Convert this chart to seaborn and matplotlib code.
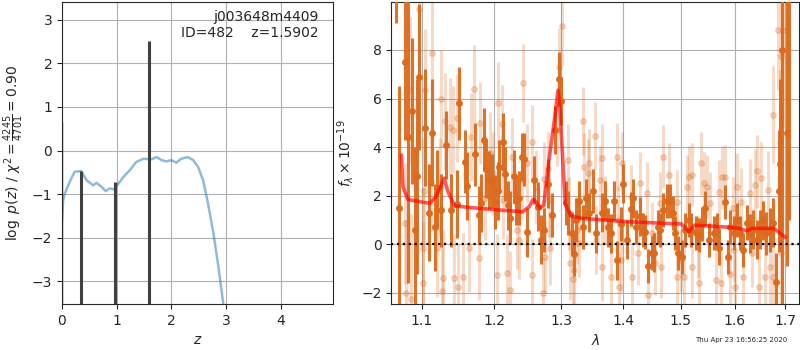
import matplotlib
matplotlib.use("Agg")
import matplotlib.pyplot as plt
from matplotlib.ticker import FixedLocator, FormatStrFormatter, NullLocator
import seaborn as sns
import pandas as pd

# --- p(z) panel data ---
z_grid = [0.0, 0.02, 0.05, 0.14, 0.23, 0.35, 0.45, 0.57, 0.63, 0.72, 0.80, 0.87, 0.96, 0.99,
          1.12, 1.24, 1.36, 1.49, 1.64, 1.73, 1.82, 1.91, 2.00, 2.09, 2.18, 2.30, 2.40, 2.49,
          2.58, 2.67, 2.77, 2.86, 2.95, 3.00]
logpz = [-1.6, -1.15, -0.99, -0.72, -0.49, -0.47, -0.68, -0.80, -0.74, -0.83, -0.93, -0.87, -0.89, -0.83,
         -0.61, -0.45, -0.26, -0.19, -0.20, -0.15, -0.22, -0.25, -0.22, -0.28, -0.19, -0.15, -0.22, -0.38,
         -0.68, -1.21, -1.90, -2.66, -3.51, -4.0]
peak_z = [0.355, 0.965, 1.5902]
peak_top = [-0.47, -0.72, 2.50]
edge_z = [0.008]
edge_top = [0.65]

# --- spectrum panel data (microns, flux x 1e-19) ---
wave_a = [1.067, 1.071, 1.078, 1.0825, 1.087, 1.091, 1.094, 1.097, 1.1045, 1.109, 1.113, 1.117,
          1.120, 1.125, 1.133, 1.139, 1.148, 1.150, 1.158, 1.1615, 1.173, 1.1775, 1.181, 1.1845,
          1.188, 1.1925, 1.196, 1.2005, 1.2045, 1.207, 1.212, 1.2155, 1.2195, 1.223, 1.228, 1.232,
          1.2355, 1.2405, 1.243, 1.248, 1.259, 1.264, 1.269, 1.274, 1.279, 1.285, 1.291, 1.296,
          1.2997, 1.307, 1.311, 1.3165, 1.320, 1.323, 1.328, 1.3335, 1.339, 1.3445, 1.350, 1.3555,
          1.3645, 1.370, 1.375, 1.3805, 1.385, 1.3905, 1.396, 1.3995, 1.407, 1.414, 1.417, 1.4225,
          1.428, 1.433, 1.437, 1.443, 1.4485, 1.453, 1.459, 1.463, 1.469, 1.475, 1.480, 1.4855,
          1.4905, 1.4945, 1.502, 1.508, 1.5145, 1.519, 1.527, 1.533, 1.539, 1.545, 1.5515, 1.561,
          1.567, 1.570, 1.581, 1.587, 1.592, 1.598, 1.6035, 1.610, 1.6165, 1.623, 1.6295, 1.636,
          1.6425, 1.649, 1.6555, 1.662, 1.6685, 1.675, 1.6815, 1.687, 1.689, 1.6935, 1.7035, 1.707]
flux_a = [10.9, 1.5, 7.5, 4.4, 5.5, 0.6, 2.8, 6.9, 4.8, 1.3, 4.6, 0.7,
          2.3, 1.4, 4.1, 1.4, 1.65, 5.8, 3.4, 2.4, 3.7, 1.2, 1.7, 4.3,
          3.1, 2.65, 2.6, 1.75, 2.2, 3.2, 4.2, 2.9, 1.6, 1.1, 2.8, 1.8,
          1.9, 3.6, 3.5, 0.5, 2.65, 1.55, 0.2, 0.6, 2.5, 1.2, 4.7, 6.8,
          5.9, 1.7, 1.3, 0.45, -0.4, 1.0, 1.8, 0.7, 1.9, 1.3, 2.2, 0.45,
          1.3, 1.8, 0.7, 0.45, 1.8, -0.65, 0.85, 2.5, 0.2, 1.45, 1.9, 0.7,
          1.15, 0.6, 0.5, -0.9, -0.35, -0.35, 0.7, 0.6, 1.4, 1.8, 1.8, 1.3,
          0.45, -0.35, -0.5, 0.6, 1.0, 0.6, 0.45, 0.4, 0.85, 1.5, 0.2, 0.45,
          0.6, -0.15, 1.75, -0.5, 0.7, 0.45, 1.0, 0.45, -0.25, 0.9, 0.45, 0.6,
          0.2, 0.6, 1.0, 0.45, 0.6, 0.9, -1.55, 2.2, 3.3, 8.0, 4.6, 12.0]
err_a = [1.8, 5.0, 3.2, 6.0, 3.0, 3.4, 4.0, 3.0, 2.4, 2.0, 2.2, 1.8,
         1.6, 1.5, 1.4, 1.5, 1.4, 1.5, 1.3, 1.4, 1.3, 1.2, 1.2, 1.3,
         1.2, 1.2, 1.1, 1.1, 1.2, 1.1, 1.2, 1.1, 1.0, 1.1, 1.1, 1.0,
         1.1, 1.0, 1.1, 1.0, 1.0, 1.0, 1.0, 0.9, 1.0, 0.9, 1.0, 1.1,
         1.0, 0.9, 0.9, 0.9, 0.9, 0.9, 0.8, 0.9, 0.8, 0.8, 0.9, 0.8,
         0.8, 0.8, 0.8, 0.8, 0.8, 0.8, 0.7, 0.8, 0.8, 0.7, 0.8, 0.7,
         0.8, 0.7, 0.7, 0.7, 0.7, 0.8, 0.7, 0.7, 0.7, 0.7, 0.7, 0.7,
         0.7, 0.7, 0.7, 0.7, 0.7, 0.7, 0.7, 0.7, 0.7, 0.7, 0.7, 0.7,
         0.7, 0.7, 0.7, 0.7, 0.7, 0.7, 0.7, 0.7, 0.7, 0.7, 0.8, 0.8,
         0.8, 0.8, 0.8, 0.9, 0.9, 1.0, 1.2, 2.5, 3.5, 11.0, 5.5, 11.0]

wave_b = [1.078, 1.080, 1.085, 1.086, 1.097, 1.101, 1.102, 1.1025, 1.1045, 1.1125, 1.1135, 1.120,
          1.124, 1.126, 1.127, 1.128, 1.1305, 1.1375, 1.142, 1.1435, 1.147, 1.149, 1.156, 1.164,
          1.1675, 1.1715, 1.1775, 1.180, 1.1865, 1.1935, 1.198, 1.2035, 1.2055, 1.2115, 1.2125, 1.2185,
          1.223, 1.2255, 1.233, 1.2355, 1.2405, 1.2415, 1.248, 1.2545, 1.2555, 1.2615, 1.2715, 1.274,
          1.2755, 1.279, 1.281, 1.282, 1.2935, 1.296, 1.301, 1.311, 1.312, 1.313, 1.318, 1.320,
          1.3255, 1.328, 1.3345, 1.3355, 1.342, 1.3445, 1.354, 1.3555, 1.362, 1.3645, 1.3655, 1.370,
          1.3805, 1.389, 1.3915, 1.3925, 1.397, 1.398, 1.414, 1.415, 1.4255, 1.428, 1.4405, 1.4415,
          1.4485, 1.454, 1.463, 1.4655, 1.468, 1.4785, 1.493, 1.494, 1.500, 1.505, 1.5115, 1.5145,
          1.520, 1.521, 1.531, 1.533, 1.536, 1.5415, 1.5475, 1.5535, 1.564, 1.570, 1.574, 1.576,
          1.582, 1.592, 1.5975, 1.599, 1.6005, 1.6035, 1.613, 1.6165, 1.6295, 1.633, 1.6395, 1.6425,
          1.6475, 1.652, 1.6595, 1.665, 1.6685, 1.675, 1.6755, 1.685, 1.6885, 1.6915, 1.692, 1.695]
flux_b = [0.86, -2.0, 6.35, -2.26, 9.7, -0.16, -1.58, 2.2, 6.35, 2.57, 7.86, -0.16,
          2.37, 6.0, -1.92, -1.37, 5.07, 4.84, 4.72, -1.37, 5.2, -1.77, -1.34, -0.16,
          4.41, 6.39, -0.58, 4.99, 1.9, 3.75, 2.92, -1.27, 5.81, 4.94, 1.82, -1.17,
          -1.89, 3.61, 0.59, 0.18, 2.65, 6.63, 3.34, 4.22, -1.27, 2.37, -2.02, 2.71,
          -0.51, 3.12, 1.82, -0.16, 4.71, 7.29, 8.97, 3.47, 1.28, -0.78, -1.41, -1.06,
          0.59, 0.04, 5.09, 3.2, 2.92, 3.34, 4.46, 0.18, 2.65, 3.54, -0.92, 1.41,
          -1.34, 3.61, 1.0, -1.75, -0.65, 3.34, 1.96, -1.34, -0.37, 2.51, 2.1, -2.09,
          0.45, -0.78, 1.69, -0.92, 3.61, 2.86, 1.75, -1.34, -0.65, -1.34, 2.37, 2.76,
          2.86, -0.92, -0.09, -1.61, 3.34, 2.51, 2.37, 1.69, -1.47, 2.17, -1.61, 2.76,
          2.78, -1.2, 1.48, -0.23, -1.75, 2.37, 1.75, -1.34, 2.1, -0.37, 2.44, 3.0,
          -1.75, 2.72, -1.34, 2.24, -0.92, 5.33, -1.34, 8.84, 4.17, 7.77, -0.37, 8.84]
err_b = [2.5, 3.0, 3.0, 3.5, 3.0, 2.5, 2.5, 2.2, 2.5, 2.0, 2.5, 2.0,
         2.0, 2.0, 2.0, 2.0, 2.0, 2.0, 1.8, 1.8, 1.8, 1.8, 1.8, 1.8,
         1.8, 1.8, 1.7, 1.7, 1.7, 1.7, 1.7, 1.7, 1.7, 1.6, 1.6, 1.6,
         1.6, 1.6, 1.6, 1.6, 1.6, 1.6, 1.6, 1.5, 1.5, 1.5, 1.5, 1.5,
         1.5, 1.5, 1.5, 1.5, 1.5, 1.6, 1.6, 1.5, 1.5, 1.5, 1.5, 1.5,
         1.4, 1.4, 1.4, 1.4, 1.4, 1.4, 1.4, 1.4, 1.4, 1.4, 1.4, 1.4,
         1.4, 1.4, 1.4, 1.4, 1.3, 1.3, 1.3, 1.3, 1.3, 1.3, 1.3, 1.3,
         1.3, 1.3, 1.3, 1.3, 1.3, 1.3, 1.3, 1.3, 1.3, 1.3, 1.3, 1.3,
         1.3, 1.3, 1.3, 1.3, 1.3, 1.3, 1.3, 1.3, 1.3, 1.3, 1.3, 1.3,
         1.3, 1.3, 1.3, 1.3, 1.4, 1.4, 1.4, 1.4, 1.4, 1.4, 1.5, 1.5,
         1.5, 1.5, 1.6, 1.6, 1.7, 2.0, 2.0, 2.5, 3.0, 3.5, 3.0, 4.0]

model_wave = [1.0736, 1.0755, 1.082, 1.093, 1.1106, 1.119, 1.130, 1.135, 1.144, 1.179, 1.241,
              1.251, 1.257, 1.261, 1.267, 1.273, 1.281, 1.290, 1.295, 1.298, 1.303, 1.306, 1.315,
              1.333, 1.408, 1.501, 1.515, 1.524, 1.580, 1.608, 1.623, 1.634, 1.677, 1.700]
model_flux = [3.68, 2.37, 1.85, 1.78, 1.69, 1.96, 2.72, 2.17, 1.58, 1.48, 1.34,
              1.55, 1.85, 1.75, 1.48, 1.62, 3.47, 5.25, 6.35, 5.53, 3.20, 1.69, 1.17,
              1.07, 0.93, 0.84, 0.52, 0.79, 0.72, 0.66, 0.56, 0.66, 0.66, 0.29]

z_ticks = [0, 1, 2, 3, 4]
pz_yticks = [-3, -2, -1, 0, 1, 2, 3]
wave_ticks = [1.1, 1.2, 1.3, 1.4, 1.5, 1.6, 1.7]
flux_yticks = [-2, 0, 2, 4, 6, 8]

sns.set_style("ticks")
plt.rcParams['font.family'] = ['DejaVu Sans']
plt.rcParams['font.size'] = 10
plt.rcParams['xtick.labelsize'] = 10
plt.rcParams['ytick.labelsize'] = 10

orange = '#dc6a1c'

fig = plt.figure(figsize=(8, 3.5), dpi=100)
ax1 = fig.add_axes([0.0775, 0.131, 0.339, 0.863])
ax2 = fig.add_axes([0.489, 0.131, 0.510, 0.863])

# p(z) panel
pz = pd.DataFrame({'z': z_grid, 'logpz': logpz})
sns.lineplot(data=pz, x='z', y='logpz', ax=ax1, color='tab:blue', alpha=0.5, lw=1.8)
ax1.vlines(peak_z, -10, peak_top, color='0.25', lw=2.2)
ax1.vlines(edge_z, -10, edge_top, color='0.25', lw=1.0)
ax1.set_xlim(0, 4.96)
ax1.set_ylim(-3.52, 3.40)
ax1.set_xticks(z_ticks)
ax1.set_yticks(pz_yticks)
ax1.grid(True, color='#b0b0b0', lw=0.8)
ax1.set_xlabel('$z$')
ax1.set_ylabel(r'$\log\ p(z)$ / $\chi^2=\frac{4245}{4701}=0.90$')
ax1.text(0.945, 0.975, 'j003648m4409\nID=482    z=1.5902', transform=ax1.transAxes,
         ha='right', va='top', fontsize=10)

# spectrum panel
ax2.errorbar(wave_b, flux_b, yerr=err_b, fmt='o', color=orange, ms=4, elinewidth=2.2,
             alpha=0.25, capsize=0, zorder=2)
ax2.errorbar(wave_a, flux_a, yerr=err_a, fmt='o', color=orange, ms=4, elinewidth=2.2,
             alpha=0.95, capsize=0, zorder=3)
model = pd.DataFrame({'wave': model_wave, 'flux': model_flux})
sns.lineplot(data=model, x='wave', y='flux', ax=ax2, color='red', alpha=0.65, lw=2.6, zorder=5)
ax2.axhline(0, color='k', ls=':', lw=1.6, zorder=6)
ax2.set_xscale('log')
ax2.xaxis.set_major_locator(FixedLocator(wave_ticks))
ax2.xaxis.set_major_formatter(FormatStrFormatter('%.1f'))
ax2.xaxis.set_minor_locator(NullLocator())
ax2.set_xlim(1.0605, 1.7285)
ax2.set_ylim(-2.46, 9.97)
ax2.set_yticks(flux_yticks)
ax2.grid(True, color='#b0b0b0', lw=0.8)
ax2.set_axisbelow(True)
ax2.set_xlabel(r'$\lambda$')
ax2.set_ylabel(r'$f_\lambda \times 10^{-19}$')

fig.text(0.984, 0.028, 'Thu Apr 23 16:56:25 2020', ha='right', va='center', fontsize=5)

fig.savefig('out.png', dpi=100)
